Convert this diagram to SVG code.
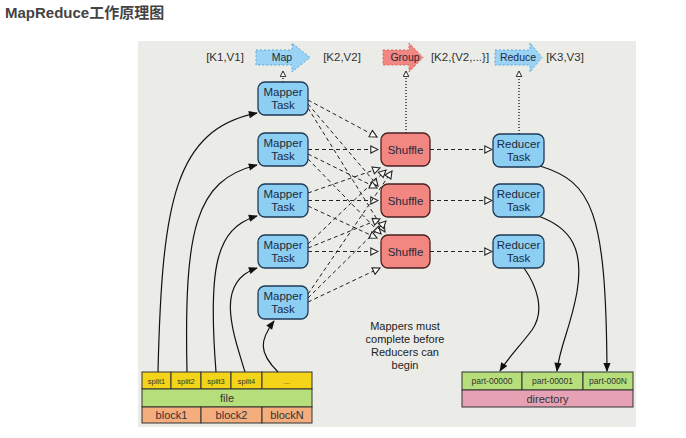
<svg xmlns="http://www.w3.org/2000/svg" width="686" height="438" viewBox="0 0 686 438">
<style>
text{font-family:"Liberation Sans",Arial,"Noto Sans CJK SC",sans-serif;fill:#1c2a3c}
.lbl{font-size:11.5px;fill:#333}
.blue{fill:#8dcff3;stroke:#1e3a55;stroke-width:1.3}
.red{fill:#f28680;stroke:#4a2020;stroke-width:1.3}
.nt{font-size:11.5px;text-anchor:middle}
.dash{fill:none;stroke:#222;stroke-width:1;stroke-dasharray:4 3}
.dot{fill:none;stroke:#222;stroke-width:1.4;stroke-dasharray:1 2}
.solid{fill:none;stroke:#111;stroke-width:1.2}
.cell{stroke:#333;stroke-width:1}
.ct{font-size:7.5px;text-anchor:middle;fill:#333}
.ft{font-size:11px;text-anchor:middle;fill:#333}
</style>
<defs>
<marker id="oa" viewBox="0 0 10 10" refX="9" refY="5" markerWidth="9" markerHeight="9" markerUnits="userSpaceOnUse" orient="auto">
<path d="M1,1 L9,5 L1,9 Z" fill="#fff" stroke="#222" stroke-width="1.2"/>
</marker>
<marker id="sa" viewBox="0 0 10 10" refX="9" refY="5" markerWidth="10" markerHeight="9" markerUnits="userSpaceOnUse" orient="auto">
<path d="M0,1 L10,5 L0,9 Z" fill="#111"/>
</marker>
<marker id="da" viewBox="0 0 10 10" refX="9" refY="5" markerWidth="7" markerHeight="7" markerUnits="userSpaceOnUse" orient="auto">
<path d="M1,1 L9,5 L1,9 Z" fill="#fff" stroke="#222" stroke-width="1.4"/>
</marker>
</defs>
<rect width="686" height="438" fill="#fff"/>
<text x="5" y="18" style="font-size:15px;font-weight:bold;fill:#444">MapReduce工作原理图</text>
<rect x="138" y="41" width="498" height="386" fill="#ebebe7"/>

<g id="labels">
<text class="lbl" x="225" y="61" text-anchor="middle">[K1,V1]</text>
<text class="lbl" x="342" y="61" text-anchor="middle">[K2,V2]</text>
<text class="lbl" x="460" y="61" text-anchor="middle">[K2,{V2,...}]</text>
<text class="lbl" x="565" y="61" text-anchor="middle">[K3,V3]</text>
</g>
<g id="map-arrow">
<polygon points="256,50 292,50 292,43 310,57.5 292,72 292,65 256,65" fill="#9ad3f3" stroke="#5aa8d8" stroke-width="1" stroke-dasharray="2 2"/>
<text x="282" y="61" style="font-size:10.5px" text-anchor="middle">Map</text>
</g>
<g id="group-arrow">
<polygon points="383,50 409,50 409,43 423,57.5 409,72 409,65 383,65" fill="#f28680" stroke="#d86a66" stroke-width="1" stroke-dasharray="2 2"/>
<text x="405" y="61" style="font-size:10.5px" text-anchor="middle">Group</text>
</g>
<g id="reduce-arrow">
<polygon points="495,50 530,50 530,43 542,57.5 530,72 530,65 495,65" fill="#9ad3f3" stroke="#5aa8d8" stroke-width="1" stroke-dasharray="2 2"/>
<text x="518" y="61" style="font-size:10.5px" text-anchor="middle">Reduce</text>
</g>

<g id="connectors">
<path class="dot" d="M283,82 L283,71" marker-end="url(#da)"/>
<path class="dot" d="M406,133 L406,71" marker-end="url(#da)"/>
<path class="dot" d="M519,134 L519,71" marker-end="url(#da)"/>
<g marker-end="url(#oa)">
<path class="dash" d="M308,100 L377,137"/>
<path class="dash" d="M308,104 L378,186"/>
<path class="dash" d="M308,108 L385,232"/>
<path class="dash" d="M308,149.5 L378,149.5"/>
<path class="dash" d="M308,154 L377,188"/>
<path class="dash" d="M308,159 L381,234"/>
<path class="dash" d="M308,193 L380,168"/>
<path class="dash" d="M308,200.5 L378,200.5"/>
<path class="dash" d="M308,206 L377,238"/>
<path class="dash" d="M308,244 L386,170"/>
<path class="dash" d="M308,248 L380,219"/>
<path class="dash" d="M308,251.5 L378,251.5"/>
<path class="dash" d="M308,294 L392,171"/>
<path class="dash" d="M308,298 L386,221"/>
<path class="dash" d="M308,302 L380,268"/>
</g>
<g marker-end="url(#oa)">
<path class="dash" d="M430,149.5 L492,149.5"/>
<path class="dash" d="M430,200.5 L492,200.5"/>
<path class="dash" d="M430,251.5 L492,251.5"/>
</g>
<g marker-end="url(#sa)">
<path class="solid" d="M158,372 C162,200 175,130 257,113"/>
<path class="solid" d="M187,372 C184,230 195,180 257,165"/>
<path class="solid" d="M216,372 C208,270 215,228 257,216"/>
<path class="solid" d="M245,372 C232,330 215,282 257,268"/>
<path class="solid" d="M278,372 C258,352 260,340 274,321"/>
</g>
<g marker-end="url(#sa)">
<path class="solid" d="M540,166 C592,182 606,210 607,371"/>
<path class="solid" d="M538,216 C572,228 584,250 577,292 C570,330 560,345 557,371"/>
<path class="solid" d="M524,268 C536,285 546,310 532,330 C520,346 508,358 500,371"/>
</g>
</g>

<g id="mapper1"><rect class="blue" x="258" y="82" width="50" height="33" rx="7"/><text class="nt" x="283" y="96">Mapper</text><text class="nt" x="283" y="109">Task</text></g>
<g id="mapper2"><rect class="blue" x="258" y="133" width="50" height="33" rx="7"/><text class="nt" x="283" y="147">Mapper</text><text class="nt" x="283" y="160">Task</text></g>
<g id="mapper3"><rect class="blue" x="258" y="184" width="50" height="33" rx="7"/><text class="nt" x="283" y="198">Mapper</text><text class="nt" x="283" y="211">Task</text></g>
<g id="mapper4"><rect class="blue" x="258" y="235" width="50" height="33" rx="7"/><text class="nt" x="283" y="249">Mapper</text><text class="nt" x="283" y="262">Task</text></g>
<g id="mapper5"><rect class="blue" x="258" y="286" width="50" height="33" rx="7"/><text class="nt" x="283" y="300">Mapper</text><text class="nt" x="283" y="313">Task</text></g>

<g id="shuffle1"><rect class="red" x="381" y="133" width="49" height="33" rx="7"/><text class="nt" x="405.5" y="153.5">Shuffle</text></g>
<g id="shuffle2"><rect class="red" x="381" y="184" width="49" height="33" rx="7"/><text class="nt" x="405.5" y="204.5">Shuffle</text></g>
<g id="shuffle3"><rect class="red" x="381" y="235" width="49" height="33" rx="7"/><text class="nt" x="405.5" y="255.5">Shuffle</text></g>

<g id="reducer1"><rect class="blue" x="493" y="134" width="51" height="33" rx="7"/><text class="nt" x="518.5" y="148">Reducer</text><text class="nt" x="518.5" y="161">Task</text></g>
<g id="reducer2"><rect class="blue" x="493" y="184" width="51" height="33" rx="7"/><text class="nt" x="518.5" y="198">Reducer</text><text class="nt" x="518.5" y="211">Task</text></g>
<g id="reducer3"><rect class="blue" x="493" y="235" width="51" height="33" rx="7"/><text class="nt" x="518.5" y="249">Reducer</text><text class="nt" x="518.5" y="262">Task</text></g>

<g id="note">
<text class="nt" x="405" y="330" style="fill:#222;font-size:11px">Mappers must</text>
<text class="nt" x="405" y="343" style="fill:#222;font-size:11px">complete before</text>
<text class="nt" x="405" y="356" style="fill:#222;font-size:11px">Reducers can</text>
<text class="nt" x="405" y="369" style="fill:#222;font-size:11px">begin</text>
</g>

<g id="file-table">
<rect class="cell" x="142" y="372" width="29" height="17" fill="#f4d419"/>
<rect class="cell" x="171" y="372" width="30" height="17" fill="#f4d419"/>
<rect class="cell" x="201" y="372" width="30" height="17" fill="#f4d419"/>
<rect class="cell" x="231" y="372" width="31" height="17" fill="#f4d419"/>
<rect class="cell" x="262" y="372" width="50" height="17" fill="#f4d419"/>
<text class="ct" x="156.5" y="383.5">split1</text>
<text class="ct" x="186" y="383.5">split2</text>
<text class="ct" x="216" y="383.5">split3</text>
<text class="ct" x="246.5" y="383.5">split4</text>
<text class="ct" x="287" y="383.5">...</text>
<rect class="cell" x="142" y="389" width="170" height="18" fill="#b6df7b"/>
<text class="ft" x="227" y="402">file</text>
<rect class="cell" x="142" y="407" width="59" height="16" fill="#f4ad7c"/>
<rect class="cell" x="201" y="407" width="61" height="16" fill="#f4ad7c"/>
<rect class="cell" x="262" y="407" width="50" height="16" fill="#f4ad7c"/>
<text class="ft" x="171.5" y="419">block1</text>
<text class="ft" x="231.5" y="419">block2</text>
<text class="ft" x="287" y="419">blockN</text>
</g>

<g id="dir-table">
<rect class="cell" x="462" y="372" width="60" height="18" fill="#b6df7b"/>
<rect class="cell" x="522" y="372" width="61" height="18" fill="#b6df7b"/>
<rect class="cell" x="583" y="372" width="50" height="18" fill="#b6df7b"/>
<text class="ct" x="492" y="384" style="font-size:8.5px">part-00000</text>
<text class="ct" x="552.5" y="384" style="font-size:8.5px">part-00001</text>
<text class="ct" x="608" y="384" style="font-size:8.5px">part-000N</text>
<rect class="cell" x="462" y="390" width="171" height="17" fill="#e6a2b4"/>
<text class="ft" x="547.5" y="402.5">directory</text>
</g>
</svg>
